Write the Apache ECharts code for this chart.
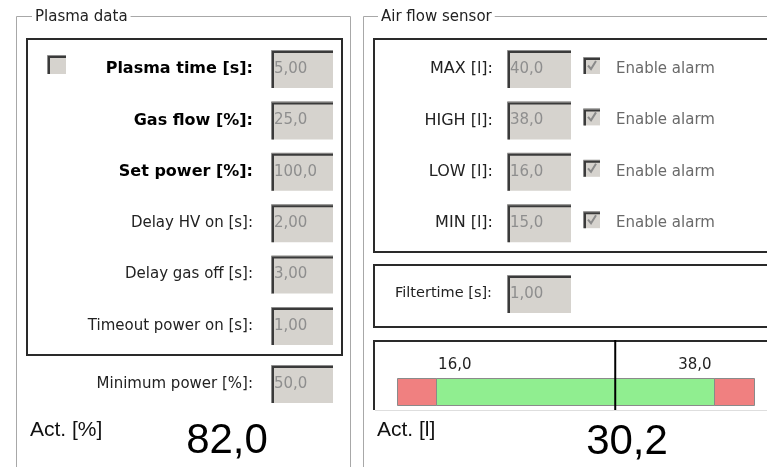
<!DOCTYPE html>
<html>
<head>
<meta charset="utf-8">
<title>Plasma data / Air flow sensor</title>
<script src="https://cdn.jsdelivr.net/npm/echarts@6/dist/echarts.min.js"></script>
<style>
html, body { margin: 0; padding: 0; background: #fff; }
#main { width: 767px; height: 467px; }
</style>
</head>
<body>
<div id="main"></div>
<script>
// panel data
const plasmaLabels = ['Plasma time [s]:', 'Gas flow [%]:', 'Set power [%]:', 'Delay HV on [s]:', 'Delay gas off [s]:', 'Timeout power on [s]:'];
const plasmaValues = ['5,00', '25,0', '100,0', '2,00', '3,00', '1,00'];
const plasmaBold = [true, true, true, false, false, false];
const minPowerLabel = 'Minimum power [%]:';
const minPowerValue = '50,0';
const actPower = 82.0;

const alarmLabels = ['MAX [l]:', 'HIGH [l]:', 'LOW [l]:', 'MIN [l]:'];
const alarmValues = [40.0, 38.0, 16.0, 15.0];
const filterLabel = 'Filtertime [s]:';
const filterValue = '1,00';
const actFlow = 30.2;

// range bar: scale ends and alarm thresholds (LOW / HIGH)
const scaleMin = 12.9;
const scaleMax = 41.2;
const thresholds = [16.0, 38.0];
const segStart = [scaleMin, thresholds[0], thresholds[1]];
const segEnd = [thresholds[0], thresholds[1], scaleMax];
const segKind = [0, 1, 0]; // 0 = alarm, 1 = ok

const fmt = v => v.toFixed(1).replace('.', ',');
const UI = 'DejaVu Sans';

const g = [];
const text = (x, y, str, o) => {
  o = o || {};
  g.push({
    type: 'text', x: x, y: y, z: 10,
    style: {
      text: str, fill: o.color || '#111', align: o.align || 'left', verticalAlign: 'middle',
      font: (o.weight || 'normal') + ' ' + (o.size || 15) + 'px "' + (o.family || UI) + '"',
      backgroundColor: o.bg, padding: o.bg ? [0, 3] : 0
    }
  });
};
const poly = (pts, color, w) => g.push({ type: 'polyline', z: 5, shape: { points: pts }, style: { stroke: color, lineWidth: w || 1, fill: null } });
const box = (x, y, w, h, color, lw) => g.push({ type: 'rect', z: 5, shape: { x: x, y: y, width: w, height: h }, style: { stroke: color, lineWidth: lw || 1, fill: null } });
const sunken = (x, y, w, h, val) => {
  g.push({ type: 'rect', z: 4, shape: { x: x, y: y, width: w, height: h }, style: { fill: '#d6d3ce' } });
  poly([[x + 0.5, y + h], [x + 0.5, y + 0.5], [x + w, y + 0.5]], '#8c8c8c', 1);
  poly([[x + 2, y + h], [x + 2, y + 2], [x + w, y + 2]], '#3a3a3a', 2);
  if (val !== undefined) text(x + 3, y + h / 2, val, { color: '#8e8e8e', size: 15 });
};
const checkbox = (x, y, s, checked) => {
  sunken(x, y, s, s);
  if (checked) poly([[x + 5, y + s / 2], [x + 8, y + s - 5], [x + s - 4, y + 4]], '#8a8a8a', 2);
};

// group boxes
box(16.5, 16.5, 334, 480, '#a8a8a8');
box(363.5, 16.5, 420, 480, '#a8a8a8');
text(32, 17, 'Plasma data', { bg: '#fff', size: 15, color: '#222' });
text(378, 17, 'Air flow sensor', { bg: '#fff', size: 15, color: '#222' });

// plasma panel
box(27, 39, 315, 316, '#2a2a2a', 2);
checkbox(47, 55, 19, false);
plasmaLabels.forEach((lab, i) => {
  const top = 50 + i * 51.4;
  sunken(271, top, 62, 38, plasmaValues[i]);
  text(253, top + 19, lab, { align: 'right', weight: plasmaBold[i] ? 'bold' : 'normal', size: plasmaBold[i] ? 16 : 15, color: plasmaBold[i] ? '#000' : '#222' });
});
sunken(271, 365, 62, 38, minPowerValue);
text(253, 384, minPowerLabel, { align: 'right', color: '#222' });
text(30, 430, 'Act. [%]', { family: 'Liberation Sans', size: 21, color: '#111' });
text(227, 441, fmt(actPower), { family: 'Liberation Sans', size: 42, align: 'center', color: '#000' });

// air flow panel
box(374, 39, 420, 213, '#2a2a2a', 2);
alarmLabels.forEach((lab, i) => {
  const top = 50 + i * 51.4;
  sunken(507, top, 64, 38, fmt(alarmValues[i]));
  text(493, top + 19, lab, { align: 'right', size: 16, color: '#222' });
  checkbox(583, top + 7, 17, true);
  text(616, top + 19, 'Enable alarm', { size: 15, color: '#6a6a6a' });
});
box(374, 265, 420, 62, '#2a2a2a', 2);
sunken(507, 275, 64, 38, filterValue);
text(492, 293, filterLabel, { align: 'right', size: 14.5, color: '#222' });
poly([[374, 410], [374, 341], [767, 341]], '#2a2a2a', 2);
poly([[375, 410.5], [767, 410.5]], '#dedede', 1);
text(377, 430, 'Act. [l]', { family: 'Liberation Sans', size: 21, color: '#111' });
text(627, 442, fmt(actFlow), { family: 'Liberation Sans', size: 42, align: 'center', color: '#000' });

const segColors = ['#f08080', '#90ee90'];
const barBand = [0.07, 0.46];
const labelLevel = 0.64;

const chart = echarts.init(document.getElementById('main'));
chart.setOption({
  animation: false,
  backgroundColor: '#fff',
  grid: { left: 397, right: 13, top: 340, height: 70 },
  xAxis: { type: 'value', min: scaleMin, max: scaleMax, show: false },
  yAxis: { type: 'value', min: 0, max: 1, show: false },
  graphic: g,
  series: [
    {
      type: 'custom',
      data: segStart.map((s, i) => [s, segEnd[i], segKind[i]]),
      encode: { x: [0, 1] },
      renderItem: (params, api) => {
        const a = api.coord([api.value(0), barBand[1]]);
        const b = api.coord([api.value(1), barBand[0]]);
        return {
          type: 'rect',
          shape: { x: Math.round(a[0]) + 0.5, y: Math.round(a[1]) + 0.5, width: Math.round(b[0] - a[0]), height: Math.round(b[1] - a[1]) },
          style: { fill: segColors[api.value(2)], stroke: '#8a8a8a', lineWidth: 1 }
        };
      }
    },
    {
      type: 'custom',
      data: thresholds.map((t, i) => [t, i]),
      renderItem: (params, api) => {
        const first = api.value(1) === 0;
        const p = api.coord([api.value(0), labelLevel]);
        return {
          type: 'text', x: p[0] + (first ? 2 : -2), y: p[1],
          style: { text: fmt(api.value(0)), align: first ? 'left' : 'right', verticalAlign: 'middle', font: '15px "DejaVu Sans"', fill: '#222' }
        };
      }
    },
    {
      type: 'line',
      data: [[actFlow, 0], [actFlow, 1]],
      symbol: 'none',
      silent: true,
      z: 5,
      lineStyle: { color: '#000', width: 2 }
    }
  ]
});
</script>
</body>
</html>
